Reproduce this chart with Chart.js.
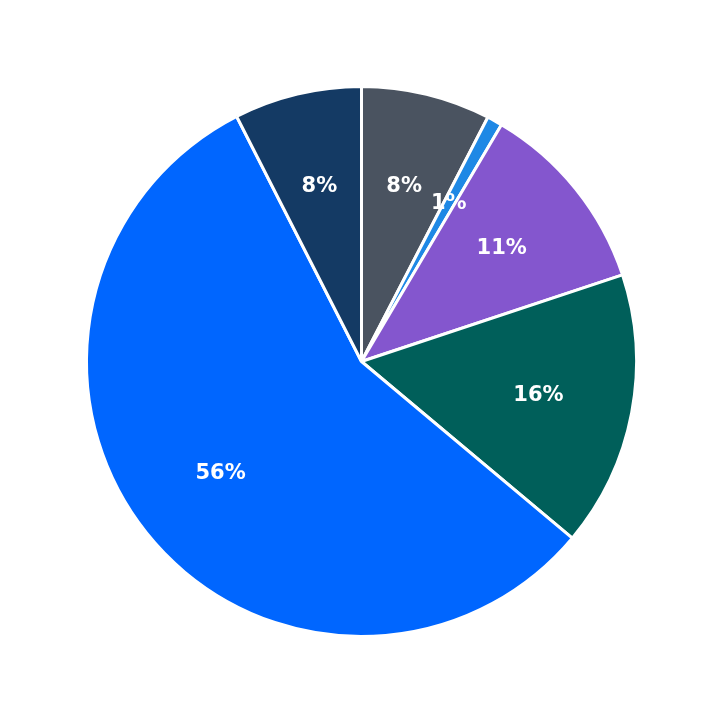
<!DOCTYPE html>
<html><head><meta charset="utf-8">
<script src="https://cdn.jsdelivr.net/npm/chart.js@4"></script>
<style>html,body{margin:0;padding:0;background:#fff}#w{width:723px;height:723px}</style>
</head><body><div id="w"><canvas id="c"></canvas></div>
<script>
const categories = ["A","B","C","D","E","F"];
const values = [7.6, 0.9, 11.4, 16.2, 56.4, 7.5];
const labels = ["8%","1%","11%","16%","56%","8%"];
const colors = ["#4a5360","#1e88e5","#8456ce","#005f5a","#0066ff","#143a64"];
const labelPlugin = {
  id:'lbl',
  afterDatasetsDraw(chart){
    const ctx = chart.ctx;
    const meta = chart.getDatasetMeta(0);
    ctx.save();
    ctx.font = 'bold 21px "DejaVu Sans"';
    ctx.fillStyle = '#fff';
    ctx.textAlign = 'center'; ctx.textBaseline = 'middle';
    meta.data.forEach((arc,i)=>{
      const p = arc.getProps(['x','y','startAngle','endAngle','outerRadius'],true);
      const a = (p.startAngle+p.endAngle)/2, r = p.outerRadius*0.655;
      ctx.fillText(labels[i], p.x+Math.cos(a)*r, p.y+Math.sin(a)*r);
    });
    ctx.restore();
  }
};
new Chart(document.getElementById('c'),{
  type:'pie',
  data:{labels:categories,datasets:[{data:values,backgroundColor:colors,borderColor:'#fff',borderWidth:3}]},
  options:{responsive:true,maintainAspectRatio:false,animation:false,
    layout:{padding:85},
    plugins:{legend:{display:false},tooltip:{enabled:false}}},
  plugins:[labelPlugin]
});
</script></body></html>
